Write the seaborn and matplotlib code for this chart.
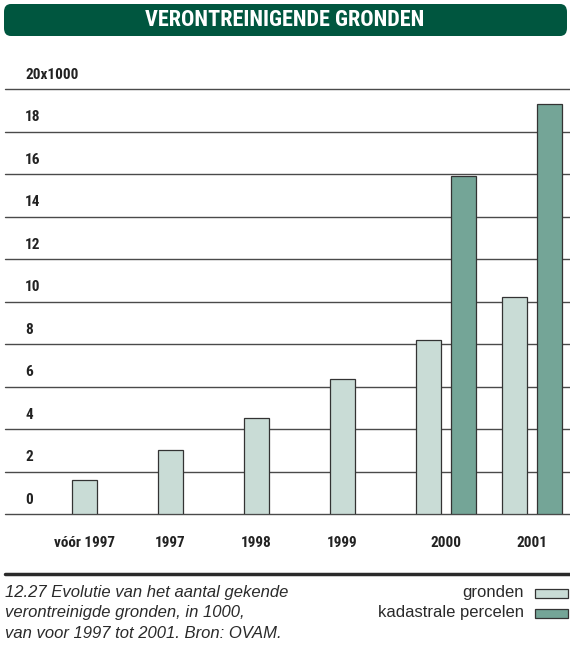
import matplotlib
matplotlib.use("Agg")
import matplotlib.pyplot as plt
from matplotlib.patches import FancyBboxPatch, Rectangle
from matplotlib import font_manager
import numpy as np
import seaborn as sns

# data (x1000)
categories = ["vóór 1997", "1997", "1998", "1999", "2000", "2001"]
gronden = [1.6, 3.0, 4.5, 6.35, 8.2, 10.2]
kadastrale = [np.nan, np.nan, np.nan, np.nan, 15.9, 19.3]
ytick_values = [0, 2, 4, 6, 8, 10, 12, 14, 16, 18, 20]
ytick_labels = ["0", "2", "4", "6", "8", "10", "12", "14", "16", "18", "20x1000"]

sns.set_style("white")
names = {f.name for f in font_manager.fontManager.ttflist}
narrow = "DejaVu Sans"
for cand in ["Roboto Condensed", "Archivo Narrow", "Liberation Sans Narrow", "Fira Sans Condensed"]:
    if cand in names:
        narrow = cand
        break
plt.rcParams['font.family'] = ["Liberation Sans", "DejaVu Sans"]

light = "#c9dcd6"
dark = "#74a597"
green = "#00563f"

fig = plt.figure(figsize=(5.7, 6.59), dpi=100)
ax = fig.add_axes([5 / 570, (659 - 514) / 659, 565 / 570, (514 - 89) / 659])

x = np.arange(len(categories), dtype=float)
has_kad = ~np.isnan(np.array(kadastrale))
offset = 0.41
width = 0.29

ax.bar(x, gronden, width=width, color=light, edgecolor="#333333", linewidth=0.9, zorder=3)
ax.bar(x[has_kad] + offset, np.array(kadastrale)[has_kad], width=width, color=dark,
       edgecolor="#333333", linewidth=0.9, zorder=3)

ax.set_xlim(-0.92, 5.65)
ax.set_ylim(0, 20)
for s in ax.spines.values():
    s.set_visible(False)
ax.set_xticks([])
ax.set_yticks([])
for v in ytick_values:
    ax.axhline(v, color="#4a4a4a", linewidth=1.0, zorder=1, clip_on=False)

trans = ax.get_yaxis_transform()
for v, lab in zip(ytick_values, ytick_labels):
    ax.text(20 / 565, v + 0.35, lab, transform=trans, ha="left", va="bottom",
            fontsize=11, fontweight="bold", family=narrow, color="#222222")

label_pos = np.where(has_kad, x + offset / 2, x)
for px, lab in zip(label_pos, categories):
    ax.text(px, -1.35, lab, ha="center", va="center", fontsize=11,
            fontweight="bold", family=narrow, color="#222222", clip_on=False)

# title banner
banner = FancyBboxPatch((4 / 570, (659 - 36) / 659), 563 / 570, 32 / 659,
                        boxstyle="round,pad=0,rounding_size=0.012",
                        transform=fig.transFigure, facecolor=green, edgecolor="none")
fig.patches.append(banner)
fig.text(0.5, (659 - 20) / 659, "VERONTREINIGENDE GRONDEN", ha="center", va="center",
         color="white", fontsize=16, fontweight="bold", family=narrow)

# caption separator
fig.add_artist(plt.Line2D([5 / 570, 1.0], [(659 - 574) / 659] * 2, color="#2a2a2a",
                          linewidth=2.5, transform=fig.transFigure))

caption = ["12.27 Evolutie van het aantal gekende",
           "verontreinigde gronden, in 1000,",
           "van voor 1997 tot 2001. Bron: OVAM."]
for i, line in enumerate(caption):
    fig.text(5 / 570, (659 - (593 + 20 * i)) / 659, line, ha="left", va="center",
             fontsize=12, style="italic", color="#2a2a2a")

legend_items = [("gronden", light), ("kadastrale percelen", dark)]
for i, (lab, col) in enumerate(legend_items):
    yc = 593 + 20 * i
    fig.text(524 / 570, (659 - yc) / 659, lab, ha="right", va="center",
             fontsize=12, color="#2a2a2a")
    fig.patches.append(Rectangle((535 / 570, (659 - yc - 4.5) / 659), 33 / 570, 9 / 659,
                                 transform=fig.transFigure, facecolor=col,
                                 edgecolor="#333333", linewidth=0.9))

fig.savefig("out.png", dpi=100)
